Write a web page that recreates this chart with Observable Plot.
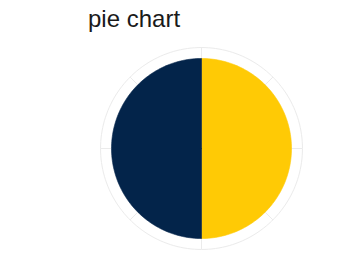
<!DOCTYPE html>
<html>
<head>
<meta charset="utf-8">
<script src="https://cdn.jsdelivr.net/npm/d3@7"></script>
<script src="https://cdn.jsdelivr.net/npm/@observablehq/plot@0.6"></script>
<style>
  html, body { margin: 0; padding: 0; background: #fff; }
  #title { height: 40px; font-family: "Liberation Sans", Arial, sans-serif; font-size: 24px; color: #1a1a1a; position: relative; }
  #title span { position: absolute; left: 88px; top: 5px; }
  svg { display: block; }
</style>
</head>
<body>
<div id="title"><span>pie chart</span></div>
<div id="chart"></div>
<script>
const categories = ["B", "A"];
const values = [50, 50];
const colors = ["#FFCA05", "#03244A"];

const outerR = 1.122;
const pie = d3.pie().sort(null).startAngle(0).endAngle(2 * Math.PI)(values);

const slicePts = [];
pie.forEach((p, i) => {
  slicePts.push({key: categories[i], x: 0, y: 0});
  const n = 120;
  for (let k = 0; k <= n; k++) {
    const a = p.startAngle + (p.endAngle - p.startAngle) * k / n;
    slicePts.push({key: categories[i], x: Math.sin(a), y: Math.cos(a)});
  }
  slicePts.push({key: categories[i], x: 0, y: 0});
});

const ring = d3.range(0, 361, 2).map(d => ({x: outerR * Math.sin(d * Math.PI / 180), y: outerR * Math.cos(d * Math.PI / 180)}));
const spokes = d3.range(0, 360, 45).map(d => ({x1: 0, y1: 0, x2: outerR * Math.sin(d * Math.PI / 180), y2: outerR * Math.cos(d * Math.PI / 180)}));

const chart = Plot.plot({
  width: 352,
  height: 214,
  marginLeft: 111,
  marginRight: 61,
  marginTop: 18,
  marginBottom: 16,
  x: {domain: [-1, 1], axis: null},
  y: {domain: [-1, 1], axis: null},
  color: {domain: categories, range: colors},
  marks: [
    Plot.line(ring, {x: "x", y: "y", stroke: "#ebebeb", strokeWidth: 1}),
    Plot.link(spokes, {x1: "x1", y1: "y1", x2: "x2", y2: "y2", stroke: "#ebebeb", strokeWidth: 1}),
    Plot.line(slicePts, {x: "x", y: "y", z: "key", fill: "key", stroke: "key", strokeWidth: 0.6, curve: "linear"})
  ]
});
document.getElementById("chart").appendChild(chart);
</script>
</body>
</html>
